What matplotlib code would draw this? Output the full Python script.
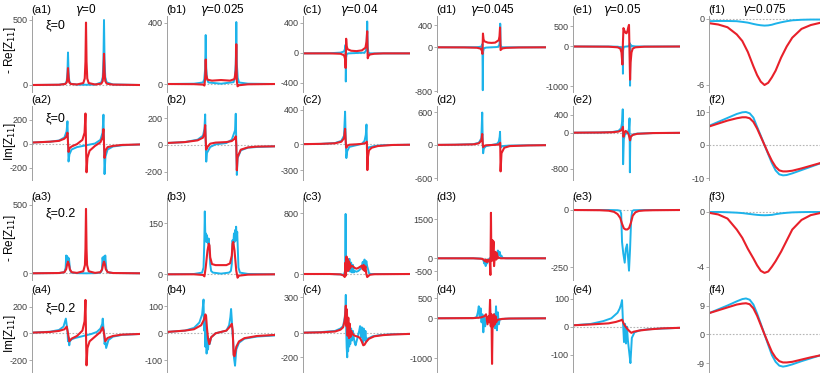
import matplotlib.pyplot as plt

plt.rcParams['font.family'] = ['Liberation Sans', 'DejaVu Sans']
plt.rcParams['axes.unicode_minus'] = False
plt.rcParams['mathtext.fontset'] = 'dejavusans'

BLUE = '#1db3ea'
RED = '#e8202a'

# x axis of every panel: normalised frequency, -3 .. 3

# ---- row 1: -Re[Z11], xi = 0 ----
A1_BX = [-3, -1.5, -1.15, -1.07, -1.03, -1, -0.97, -0.93, -0.85, -0.5, 0, 0.5, 0.85, 0.93, 0.97, 1, 1.03, 1.07, 1.15, 1.5, 3]
A1_B = [0, 2, 10, 30, 100, 250, 100, 30, 10, 3, 2, 3, 20, 60, 200, 500, 200, 60, 20, 4, 0]
A1_RX = [-3, -1.5, -1.15, -1.07, -1.03, -1, -0.97, -0.93, -0.85, -0.5, -0.15, -0.07, -0.03, 0, 0.03, 0.07, 0.15, 0.5, 0.85, 0.93, 0.97, 1, 1.03, 1.07, 1.15, 1.5, 3]
A1_R = [0, 2, 8, 20, 60, 130, 60, 20, 8, 4, 15, 50, 180, 480, 180, 50, 15, 4, 10, 30, 100, 240, 100, 30, 10, 3, 0]

B1_BX = [-3, -1.5, -1.0, -0.93, -0.88, -0.85, -0.82, -0.77, -0.7, 0, 0.7, 0.77, 0.82, 0.85, 0.88, 0.93, 1.0, 1.5, 3]
B1_B = [0, 2, 10, 30, 100, 320, 100, 30, 10, 2, 12, 40, 130, 405, 130, 40, 10, 2, 0]
B1_RX = [-3, -1.5, -1.0, -0.92, -0.88, -0.85, -0.82, -0.75, -0.5, 0, 0.5, 0.75, 0.82, 0.85, 0.88, 0.92, 1.0, 1.5, 3]
B1_R = [0, -1, -4, -10, 40, 160, 60, 28, 22, 26, 22, 32, 90, 260, 20, -15, -8, -2, 0]

C1_BX = [-3, -1.5, -0.9, -0.7, -0.64, -0.61, -0.6, -0.58, -0.55, -0.45, 0, 0.45, 0.53, 0.57, 0.6, 0.63, 0.67, 0.75, 1.5, 3]
C1_B = [-5, -3, 5, 20, 60, 110, -380, -60, -15, -5, 0, 5, 30, 120, 420, 80, 5, -5, -5, -5]
C1_RX = [-3, -1.5, -0.9, -0.7, -0.64, -0.61, -0.58, -0.55, -0.5, -0.3, 0, 0.3, 0.5, 0.56, 0.6, 0.63, 0.67, 0.75, 1.0, 1.5, 3]
C1_R = [-5, -5, -10, -30, -80, -200, 190, 90, 50, 30, 25, 35, 70, 150, 290, -70, -40, -20, -10, -5, -5]

D1_BX = [-3, -1.5, -0.8, -0.6, -0.52, -0.5, -0.48, -0.46, -0.42, -0.3, 0, 0.3, 0.4, 0.44, 0.47, 0.48, 0.5, 0.53, 0.6, 1, 3]
D1_B = [0, 0, 2, 10, 30, 60, -780, -80, -20, -5, 0, 5, 20, 60, 200, 430, 60, 10, 0, 0, 0]
D1_RX = [-3, -1.5, -0.8, -0.6, -0.53, -0.5, -0.47, -0.44, -0.4, -0.2, 0, 0.2, 0.4, 0.44, 0.47, 0.5, 0.53, 0.6, 0.8, 1.5, 3]
D1_R = [0, -2, -8, -25, -60, -120, 250, 150, 110, 85, 80, 85, 130, 200, 360, -50, -40, -20, -10, -3, 0]

E1_BX = [-3, -1, -0.5, -0.3, -0.24, -0.21, -0.2, -0.19, -0.16, -0.1, 0, 0.1, 0.16, 0.19, 0.2, 0.21, 0.24, 0.3, 0.5, 1, 3]
E1_B = [0, 0, -5, -20, -60, -200, -680, -100, -20, -5, 0, 5, 20, 80, -980, -100, 40, 15, 2, 0, 0]
E1_RX = [-3, -1, -0.5, -0.35, -0.28, -0.23, -0.2, -0.17, -0.12, -0.05, 0, 0.05, 0.1, 0.14, 0.2, 0.23, 0.28, 0.35, 0.5, 1, 3]
E1_R = [0, -5, -20, -50, -150, -450, 100, 460, 400, 340, 330, 380, 480, 540, -830, -400, -150, -50, -20, -5, 0]

F1_X = [-3, -2.5, -2, -1.5, -1.2, -0.9, -0.6, -0.4, -0.2, 0, 0.2, 0.4, 0.6, 0.9, 1.2, 1.5, 2.0, 2.5, 3]
F1_B = [-0.2, -0.18, -0.18, -0.2, -0.26, -0.33, -0.45, -0.52, -0.57, -0.6, -0.58, -0.52, -0.42, -0.3, -0.2, -0.12, -0.07, -0.05, -0.05]
F1_R = [-0.38, -0.5, -0.75, -1.4, -2.0, -3.0, -4.3, -5.1, -5.7, -6.0, -5.8, -5.3, -4.7, -3.5, -2.5, -1.7, -0.9, -0.55, -0.35]

# ---- row 2: Im[Z11], xi = 0 ----
A2_BX = [-3, -2, -1.5, -1.2, -1.08, -1.03, -1.0, -0.97, -0.92, -0.8, -0.5, 0, 0.5, 0.8, 0.92, 0.97, 1.0, 1.03, 1.08, 1.2, 1.5, 2, 3]
A2_B = [8, 15, 25, 50, 100, 185, 20, -150, -90, -50, -30, -15, 0, 30, 90, 240, 0, -255, -110, -50, -25, -15, -8]
A2_RX = [-3, -2, -1.5, -1.2, -1.08, -1.03, -1.0, -0.97, -0.92, -0.8, -0.5, -0.2, -0.08, -0.03, 0, 0.03, 0.08, 0.2, 0.5, 0.8, 0.92, 0.97, 1.0, 1.03, 1.08, 1.2, 1.5, 2, 3]
A2_R = [8, 15, 22, 40, 60, 90, 10, -70, -40, -25, -5, 30, 90, 250, 0, -240, -120, -60, -20, 10, 50, 120, 0, -120, -60, -30, -20, -12, -8]

B2_BX = [-3, -2, -1.3, -1.0, -0.92, -0.88, -0.85, -0.82, -0.78, -0.6, -0.3, 0, 0.3, 0.6, 0.78, 0.82, 0.85, 0.88, 0.92, 1.1, 1.5, 2, 3]
B2_B = [15, 22, 40, 70, 120, 230, 20, -125, -60, -15, 5, 10, 15, 40, 110, 235, 0, -225, -100, -40, -20, -15, -10]
B2_RX = [-3, -2, -1.3, -1.0, -0.92, -0.88, -0.85, -0.82, -0.78, -0.6, -0.3, 0, 0.3, 0.6, 0.78, 0.82, 0.85, 0.88, 0.92, 1.1, 1.5, 2, 3]
B2_R = [15, 22, 35, 55, 90, 150, 40, -35, -20, 10, 18, 20, 22, 30, 50, 65, 0, -190, -90, -35, -18, -12, -10]

C2_BX = [-3, -2, -1.2, -0.85, -0.7, -0.64, -0.6, -0.57, -0.52, -0.4, 0, 0.3, 0.45, 0.52, 0.56, 0.59, 0.63, 0.7, 1.0, 1.5, 3]
C2_B = [2, 5, 15, 40, 100, 380, 10, -160, -80, -30, -10, 5, 40, 110, 230, -20, -50, -35, -20, -10, -5]
C2_RX = [-3, -2, -1.2, -0.85, -0.7, -0.64, -0.6, -0.57, -0.52, -0.4, 0, 0.3, 0.45, 0.53, 0.58, 0.61, 0.64, 0.7, 0.85, 1.2, 2, 3]
C2_R = [2, 5, 12, 30, 70, 180, 20, -40, -20, -5, 0, 5, 10, 20, 30, -300, -150, -70, -40, -20, -8, -5]

D2_BX = [-3, -2, -1, -0.7, -0.56, -0.51, -0.48, -0.46, -0.42, -0.3, 0, 0.3, 0.4, 0.45, 0.47, 0.49, 0.53, 0.6, 1, 2, 3]
D2_B = [2, 5, 15, 40, 120, 590, 0, -150, -60, -20, 0, 20, 60, 150, 240, -30, -40, -20, -10, -5, -3]
D2_RX = [-3, -2, -1, -0.7, -0.56, -0.51, -0.48, -0.46, -0.42, -0.3, 0, 0.3, 0.42, 0.46, 0.48, 0.5, 0.55, 0.7, 1, 2, 3]
D2_R = [2, 5, 12, 30, 80, 200, 20, -40, -20, -5, 0, 5, 15, 30, 40, -480, -150, -50, -20, -8, -3]

E2_BX = [-3, -1.5, -0.8, -0.45, -0.3, -0.24, -0.21, -0.19, -0.15, -0.1, 0, 0.1, 0.14, 0.17, 0.19, 0.21, 0.25, 0.35, 0.6, 1.5, 3]
E2_B = [0, 5, 15, 40, 100, 250, 520, -700, -150, -50, -10, 30, 100, 320, -880, -200, -80, -40, -20, -8, -3]
E2_RX = [-3, -1.5, -0.8, -0.45, -0.3, -0.24, -0.2, -0.17, -0.13, -0.05, 0.05, 0.12, 0.17, 0.2, 0.24, 0.35, 0.6, 1.5, 3]
E2_R = [0, 4, 10, 25, 50, 80, 130, -90, -20, 40, 10, -40, -120, -170, -90, -50, -25, -8, -3]

F2_X = [-3, -2.5, -2, -1.5, -1.2, -1.0, -0.8, -0.6, -0.4, -0.2, 0, 0.2, 0.4, 0.6, 0.8, 1.0, 1.2, 1.5, 2, 2.5, 3]
F2_B = [5.8, 7.0, 8.2, 9.4, 9.9, 10.0, 9.6, 8.3, 5.5, 2.8, 0, -2.8, -5.5, -7.7, -8.9, -9.2, -9.1, -8.6, -7.6, -6.6, -5.6]
F2_R = [5.6, 6.5, 7.4, 8.1, 8.4, 8.4, 8.1, 7.0, 5.0, 2.5, 0, -2.5, -4.8, -6.6, -7.7, -8.0, -8.0, -7.8, -7.1, -6.3, -5.5]

# ---- row 3: -Re[Z11], xi = 0.2 ----
A3_BX = [-3, -1.5, -1.2, -1.13, -1.1, -1.07, -1.05, -1.02, -1.0, -0.98, -0.95, -0.92, -0.88, -0.8, -0.5, 0, 0.5, 0.8, 0.88, 0.92, 0.95, 0.98, 1.0, 1.02, 1.05, 1.07, 1.1, 1.13, 1.2, 1.5, 3]
A3_B = [0, 2, 8, 40, 130, 95, 125, 90, 115, 85, 110, 70, 20, 5, 1, 0, 1, 5, 20, 115, 85, 120, 90, 125, 95, 130, 80, 30, 8, 2, 0]
A3_RX = [-3, -1.5, -1.2, -1.1, -1.05, -1.0, -0.95, -0.9, -0.8, -0.5, -0.15, -0.06, -0.03, 0, 0.03, 0.06, 0.15, 0.5, 0.8, 0.9, 0.95, 1.0, 1.05, 1.1, 1.2, 1.5, 3]
A3_R = [0, 2, 8, 30, 65, 85, 65, 30, 8, 3, 15, 60, 180, 470, 180, 60, 15, 3, 8, 30, 65, 85, 65, 30, 8, 2, 0]

B3_BX = [-3, -1.5, -1.05, -0.97, -0.93, -0.9, -0.87, -0.84, -0.81, -0.78, -0.75, -0.72, -0.68, -0.64, -0.6, -0.55, -0.45, 0, 0.45, 0.55, 0.6, 0.64, 0.68, 0.72, 0.75, 0.78, 0.81, 0.84, 0.87, 0.9, 0.93, 0.97, 1.05, 1.5, 3]
B3_B = [0, 1, 5, 20, 90, 185, 110, 120, 95, 115, 100, 90, 105, 70, 30, 10, 5, 2, 5, 10, 30, 100, 85, 120, 95, 130, 105, 140, 100, 125, 80, 20, 5, 1, 0]
B3_RX = [-3, -1.5, -1.0, -0.92, -0.85, -0.75, -0.68, -0.64, -0.6, -0.5, -0.3, 0, 0.3, 0.5, 0.6, 0.64, 0.68, 0.75, 0.85, 0.92, 1.0, 1.5, 3]
B3_R = [0, 0, -2, -6, 20, 70, 90, 85, 50, 30, 27, 27, 27, 32, 55, 90, 95, 70, 10, -10, -4, -1, 0]

C3_BX = [-3, -1.5, -0.9, -0.7, -0.64, -0.61, -0.59, -0.56, -0.53, -0.5, -0.47, -0.44, -0.4, -0.35, -0.3, -0.25, -0.2, -0.15, -0.1, 0, 0.1, 0.2, 0.3, 0.35, 0.4, 0.45, 0.5, 0.55, 0.6, 0.65, 0.7, 0.8, 1.5, 3]
C3_B = [0, 0, -5, -10, 40, 790, 150, 60, 210, 40, 170, 50, 200, 30, 150, 20, 120, 20, 40, 30, 40, 60, 100, 160, 60, 190, 80, 170, 100, 60, 10, 0, 0, 0]
C3_RX = [-3, -1.5, -0.9, -0.72, -0.66, -0.62, -0.59, -0.56, -0.53, -0.5, -0.47, -0.44, -0.41, -0.38, -0.35, -0.3, -0.2, -0.1, 0, 0.1, 0.2, 0.3, 0.35, 0.4, 0.45, 0.5, 0.55, 0.6, 0.65, 0.75, 1.0, 3]
C3_R = [0, 0, -5, -20, -40, 150, -20, 230, 60, 200, 40, 170, 60, 140, 80, 110, 100, 80, 70, 80, 95, 110, 60, 120, 40, 100, 0, -40, -30, -10, -3, 0]

D3_BX = [-3, -1, -0.6, -0.45, -0.4, -0.36, -0.32, -0.28, -0.24, -0.2, -0.15, -0.1, 0, 0.1, 0.2, 0.3, 0.35, 0.4, 0.45, 0.5, 0.55, 0.6, 0.8, 3]
D3_B = [0, 0, -10, -50, -200, -80, -300, -120, -200, -50, -100, 0, 50, -50, 100, 150, 300, 120, 250, 80, 100, 20, 0, 0]
D3_RX = [-3, -1, -0.5, -0.4, -0.35, -0.3, -0.25, -0.2, -0.15, -0.1, -0.06, -0.03, -0.01, 0.02, 0.05, 0.08, 0.11, 0.14, 0.18, 0.22, 0.26, 0.3, 0.34, 0.4, 0.5, 1, 3]
D3_R = [0, 0, -20, -80, -120, -50, -150, -60, -120, -50, -640, 1750, 200, -100, 700, 200, 650, -300, 50, 250, -50, 200, 0, 30, 0, 0, 0]

E3_BX = [-3, -1, -0.5, -0.36, -0.3, -0.25, -0.18, -0.1, -0.04, 0.03, 0.08, 0.14, 0.2, 0.26, 0.32, 0.4, 1, 3]
E3_B = [0, 0, -1, -3, -15, -140, -190, -230, -170, -150, -200, -265, -170, -40, -5, -1, 0, 0]
E3_RX = [-3, -1.5, -1, -0.7, -0.5, -0.35, -0.25, -0.15, -0.05, 0.05, 0.15, 0.25, 0.35, 0.5, 0.7, 1, 1.5, 3]
E3_R = [0, -1, -3, -8, -18, -35, -60, -80, -85, -85, -78, -55, -25, -10, -4, -2, -1, 0]

F3_X = [-3, -2.5, -2, -1.5, -1.2, -0.9, -0.6, -0.4, -0.2, 0, 0.2, 0.4, 0.6, 0.9, 1.2, 1.5, 2.0, 2.5, 3]
F3_B = [-0.02, -0.02, -0.04, -0.07, -0.1, -0.15, -0.2, -0.23, -0.25, -0.26, -0.25, -0.23, -0.18, -0.12, -0.08, -0.05, -0.03, -0.02, -0.02]
F3_R = [-0.08, -0.2, -0.5, -1.3, -1.9, -2.7, -3.4, -3.9, -4.3, -4.45, -4.35, -4.0, -3.6, -2.9, -2.1, -1.3, -0.6, -0.25, -0.1]

# ---- row 4: Im[Z11], xi = 0.2 ----
A4_BX = [-3, -2, -1.5, -1.25, -1.12, -1.07, -1.03, -1.0, -0.97, -0.93, -0.9, -0.8, -0.6, -0.3, 0, 0.3, 0.6, 0.8, 0.9, 0.93, 0.97, 1.0, 1.03, 1.07, 1.12, 1.25, 1.5, 2, 3]
A4_B = [5, 12, 25, 50, 110, 60, 20, -60, -30, -90, -60, -45, -35, -25, -15, -5, 10, 35, 70, 110, 40, 20, -80, -60, -110, -50, -25, -12, -5]
A4_RX = [-3, -2, -1.5, -1.2, -1.07, -1.0, -0.93, -0.8, -0.5, -0.2, -0.08, -0.03, 0, 0.03, 0.08, 0.2, 0.5, 0.8, 0.93, 1.0, 1.07, 1.2, 1.5, 2, 3]
A4_R = [5, 10, 18, 30, 50, 0, -60, -40, -20, 20, 90, 250, 0, -240, -110, -60, -25, 10, 45, 0, -60, -35, -20, -10, -5]

B4_BX = [-3, -2, -1.5, -1.2, -1.05, -0.97, -0.94, -0.9, -0.87, -0.83, -0.8, -0.76, -0.72, -0.68, -0.63, -0.55, -0.3, 0, 0.3, 0.45, 0.52, 0.56, 0.6, 0.64, 0.68, 0.72, 0.78, 0.85, 1.0, 1.3, 2, 3]
B4_B = [5, 10, 20, 40, 70, 125, 10, 60, -50, 20, -75, -10, -60, -20, -40, -15, 0, 5, 10, 30, 60, 90, 50, 0, -30, -90, -120, -60, -35, -20, -12, -8]
B4_RX = [-3, -2, -1.5, -1.1, -0.95, -0.87, -0.83, -0.78, -0.72, -0.65, -0.55, -0.3, 0, 0.3, 0.5, 0.6, 0.65, 0.7, 0.75, 0.85, 1.0, 1.3, 2, 3]
B4_R = [5, 10, 15, 30, 50, 70, 65, 20, -20, -40, -15, 0, 5, 10, 25, 35, 10, -80, -85, -50, -30, -18, -10, -6]

C4_BX = [-3, -2, -1.2, -0.9, -0.75, -0.66, -0.62, -0.6, -0.58, -0.55, -0.52, -0.5, -0.47, -0.44, -0.41, -0.38, -0.35, -0.3, -0.25, -0.2, -0.15, -0.1, -0.05, 0.05, 0.15, 0.2, 0.25, 0.3, 0.35, 0.4, 0.45, 0.5, 0.55, 0.6, 0.7, 0.9, 1.3, 2, 3]
C4_B = [5, 10, 20, 40, 60, 130, 200, 320, 50, -120, -200, 80, -150, 60, -110, 30, -90, 40, -60, 20, -40, -80, -100, -40, 20, 60, -30, 50, -80, 40, -60, 20, -70, -45, -40, -25, -15, -8, -5]
C4_RX = [-3, -2, -1.2, -0.9, -0.75, -0.67, -0.63, -0.6, -0.57, -0.54, -0.5, -0.46, -0.42, -0.38, -0.34, -0.3, -0.2, -0.1, 0, 0.1, 0.2, 0.3, 0.38, 0.45, 0.55, 0.7, 1.0, 1.5, 2, 3]
C4_R = [5, 8, 15, 30, 50, 100, 160, 230, 60, 200, -20, 130, -40, 80, -30, 20, -10, -20, -25, -30, -40, -70, -100, -95, -70, -45, -25, -15, -10, -5]

D4_BX = [-3, -1, -0.85, -0.8, -0.75, -0.7, -0.65, -0.6, -0.55, -0.5, -0.45, -0.4, -0.35, -0.3, -0.2, -0.1, 0, 0.1, 0.15, 0.2, 0.25, 0.3, 0.35, 0.4, 0.45, 0.55, 0.8, 1.5, 3]
D4_B = [0, 5, 20, 60, 150, 300, 50, 250, -100, 100, -350, 50, -200, -50, -80, 20, -50, -30, 100, -250, 300, -300, 150, -150, -30, -20, -10, -5, 0]
D4_RX = [-3, -1, -0.6, -0.4, -0.3, -0.22, -0.16, -0.12, -0.08, -0.04, 0.0, 0.03, 0.06, 0.1, 0.14, 0.18, 0.22, 0.26, 0.3, 0.4, 0.6, 1, 3]
D4_R = [0, 5, 20, 50, 100, -150, 50, -100, 460, -200, 100, -1140, -100, -200, 100, -150, 50, -100, -50, -30, -15, -5, 0]

E4_BX = [-3, -2, -1.3, -0.85, -0.5, -0.38, -0.3, -0.25, -0.2, -0.14, -0.08, -0.03, 0.02, 0.08, 0.15, 0.22, 0.3, 0.45, 0.8, 1.5, 3]
E4_B = [5, 10, 20, 30, 50, 65, 80, 95, 20, -55, 10, -60, 0, -50, -90, -130, -40, -20, -12, -8, -4]
E4_RX = [-3, -2, -1, -0.6, -0.35, -0.25, -0.15, -0.05, 0.05, 0.15, 0.27, 0.4, 0.7, 1.2, 2, 3]
E4_R = [5, 8, 12, 17, 22, 25, 10, 0, -8, -15, -22, -18, -14, -10, -6, -4]

F4_X = [-3, -2.5, -2, -1.5, -1.2, -1.0, -0.8, -0.6, -0.4, -0.2, 0, 0.2, 0.4, 0.6, 0.8, 1.0, 1.2, 1.5, 2, 2.5, 3]
F4_B = [6.6, 7.8, 9.0, 10.3, 11.0, 11.2, 10.8, 9.3, 6.5, 3.3, 0, -3.3, -6.5, -8.6, -9.8, -10.1, -9.9, -9.4, -8.4, -7.5, -6.6]
F4_R = [6.6, 7.5, 8.4, 9.3, 9.6, 9.7, 9.4, 8.1, 5.8, 2.9, 0, -2.8, -5.5, -7.3, -8.4, -8.8, -8.8, -8.6, -7.9, -7.2, -6.6]

# y tick values per panel
TICKS = [
    [[0, 500], [0, 400], [-400, 0, 400], [-800, 0, 400], [-1000, 0, 500], [-6, 0]],
    [[-200, 0, 200], [-200, 0, 200], [-300, 0, 400], [-600, 0, 600], [-800, 0, 400], [-10, 0, 10]],
    [[0, 500], [0, 150], [0, 800], [-500, 0, 1500], [-250, 0], [-4, 0]],
    [[-200, 0, 200], [-100, 0, 100], [-200, 0, 300], [-1000, 0, 500], [-100, 0, 100], [-9, 0, 9]],
]

gammas = ['0', '0.025', '0.04', '0.045', '0.05', '0.075']
xi_labels = ['ξ=0', 'ξ=0', 'ξ=0.2', 'ξ=0.2']
row_ylabels = ['- Re[Z$_{11}$]', 'Im[Z$_{11}$]', '- Re[Z$_{11}$]', 'Im[Z$_{11}$]']
cols = 'abcdef'

curves = [
    [(A1_BX, A1_B, A1_RX, A1_R), (B1_BX, B1_B, B1_RX, B1_R), (C1_BX, C1_B, C1_RX, C1_R),
     (D1_BX, D1_B, D1_RX, D1_R), (E1_BX, E1_B, E1_RX, E1_R), (F1_X, F1_B, F1_X, F1_R)],
    [(A2_BX, A2_B, A2_RX, A2_R), (B2_BX, B2_B, B2_RX, B2_R), (C2_BX, C2_B, C2_RX, C2_R),
     (D2_BX, D2_B, D2_RX, D2_R), (E2_BX, E2_B, E2_RX, E2_R), (F2_X, F2_B, F2_X, F2_R)],
    [(A3_BX, A3_B, A3_RX, A3_R), (B3_BX, B3_B, B3_RX, B3_R), (C3_BX, C3_B, C3_RX, C3_R),
     (D3_BX, D3_B, D3_RX, D3_R), (E3_BX, E3_B, E3_RX, E3_R), (F3_X, F3_B, F3_X, F3_R)],
    [(A4_BX, A4_B, A4_RX, A4_R), (B4_BX, B4_B, B4_RX, B4_R), (C4_BX, C4_B, C4_RX, C4_R),
     (D4_BX, D4_B, D4_RX, D4_R), (E4_BX, E4_B, E4_RX, E4_R), (F4_X, F4_B, F4_X, F4_R)],
]

# layout in pixels
W, H = 822, 373
col_left = [32, 167, 303, 437, 573, 709]
col_w = [108, 108, 107, 109, 107, 111]
row_band = [(16, 92), (106, 180), (198, 280), (293, 372)]
# (pixel of y=0, pixels per unit) for each panel
calib = [
    [(85, 0.13), (84, 0.153), (53, 0.075), (47.3, 0.055), (46.5, 0.04), (19, 11)],
    [(143.5, 0.12), (145, 0.133), (144.3, 0.086), (145, 0.055), (132.7, 0.045), (145, 3.3)],
    [(273.3, 0.137), (274.3, 0.34), (274, 0.076), (258.3, 0.026), (210, 0.229), (211.7, 13.75)],
    [(333.3, 0.1335), (333.3, 0.27), (333.3, 0.12), (318.3, 0.04), (326.7, 0.28), (334.3, 3.2)],
]
label_y = [10, 100, 197, 290]
ylabel_y = [50, 142, 238, 334]
xi_y = [25, 118, 213, 308]
gamma_x = [86, 222, 359, 492, 622, 764]

fig = plt.figure(figsize=(8.22, 3.73), dpi=100)

for r in range(4):
    top, bot = row_band[r]
    for c in range(6):
        bx, by, rx, ry = curves[r][c]
        z, s = calib[r][c]
        ax = fig.add_axes([col_left[c] / W, 1 - bot / H, col_w[c] / W, (bot - top) / H])
        ax.set_xlim(-3, 3)
        ax.set_ylim((z - bot) / s, (z - top) / s)
        ax.axhline(0, color='#b5b5b5', lw=0.8, ls=(0, (1.5, 1.5)), zorder=0)
        ax.plot(bx, by, color=BLUE, lw=1.4, solid_joinstyle='round')
        ax.plot(rx, ry, color=RED, lw=1.5, solid_joinstyle='round')
        for side in ['top', 'right', 'bottom']:
            ax.spines[side].set_visible(False)
        ax.spines['left'].set_color('#a0a0a0')
        ax.spines['left'].set_linewidth(0.7)
        ax.set_xticks([])
        ax.set_yticks(TICKS[r][c])
        ax.tick_params(axis='y', length=2, width=0.6, color='#a0a0a0',
                       labelsize=6.5, labelcolor='#404040', pad=1)
        ax.patch.set_visible(False)
        fig.text((col_left[c] - 1) / W, 1 - label_y[r] / H, f'({cols[c]}{r + 1})',
                 fontsize=8, ha='left', va='center')

    fig.text(10 / W, 1 - ylabel_y[r] / H, row_ylabels[r], rotation=90,
             fontsize=8.5, ha='center', va='center')
    fig.text(45 / W, 1 - xi_y[r] / H, xi_labels[r], fontsize=9, ha='left', va='center')

for c in range(6):
    fig.text(gamma_x[c] / W, 1 - 10 / H, r'$\gamma$=' + gammas[c],
             fontsize=8.5, ha='center', va='center')

plt.savefig('out.png', dpi=100)
